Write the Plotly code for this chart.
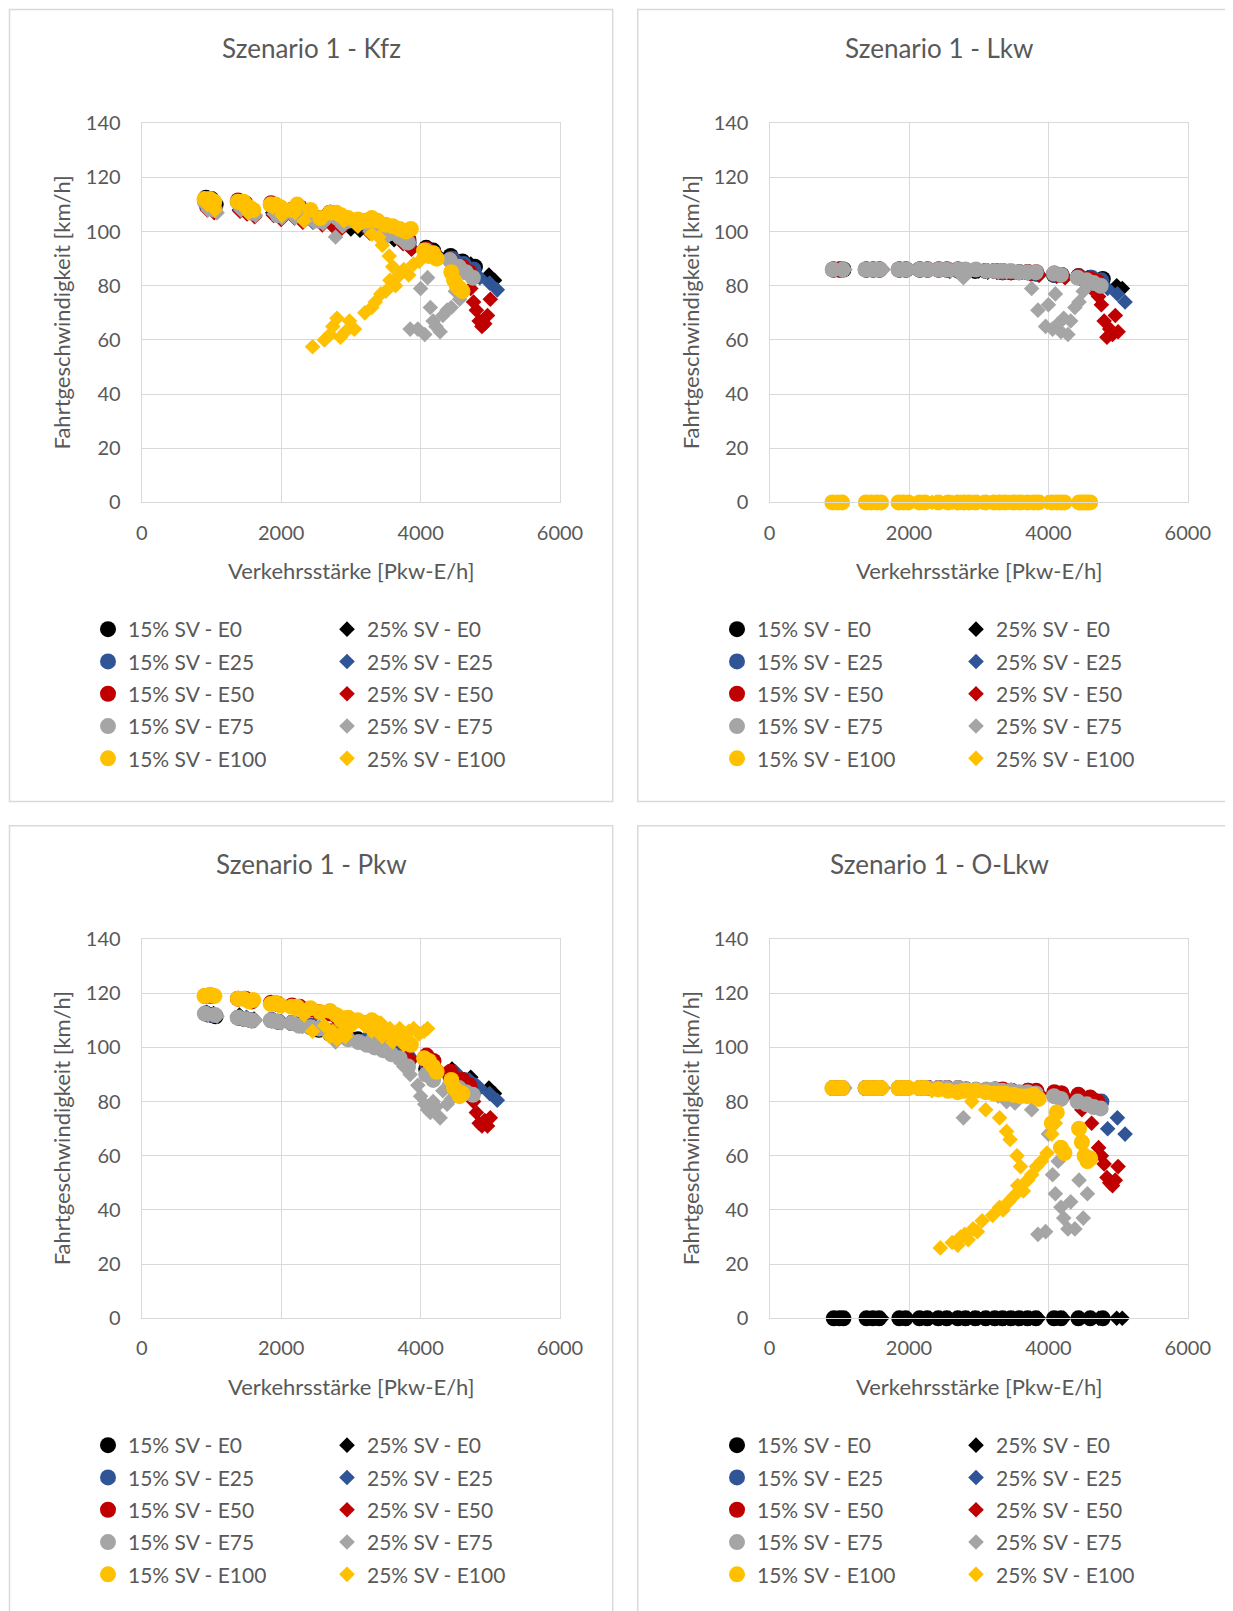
import plotly.graph_objects as go

# ---------------- data ----------------
PANELS = ["Kfz", "Lkw", "Pkw", "O-Lkw"]
SERIES = ["15% SV - E0", "25% SV - E0", "15% SV - E25", "25% SV - E25", "15% SV - E50",
          "25% SV - E50", "15% SV - E75", "25% SV - E75", "15% SV - E100", "25% SV - E100"]
X_TICKS = [0, 2000, 4000, 6000]
Y_TICKS = [0, 20, 40, 60, 80, 100, 120, 140]

# traffic volume [Pkw-E/h] per series
X_15_E0 = [920, 1000, 1060, 1390, 1480, 1570, 1860, 1950, 2150, 2260, 2420, 2540, 2700, 2810, 2950, 3100, 3230, 3340, 3460, 3580, 3700, 3820, 4080, 4180, 4430, 4600, 4780]
X_25_E0 = [930, 1030, 1400, 1500, 1610, 1880, 1990, 2180, 2300, 2450, 2580, 2730, 2850, 3000, 3130, 3260, 3380, 3500, 3620, 3740, 3860, 4110, 4220, 4450, 4720, 4980, 5060]
X_15_E25 = [915, 1010, 1385, 1490, 1580, 1865, 1960, 2160, 2270, 2430, 2550, 2710, 2820, 3240, 3350, 3470, 3710, 3830, 4090, 4190, 4440, 4620, 4760]
X_25_E25 = [935, 1035, 1405, 1505, 1615, 1885, 1995, 2185, 2305, 2455, 2585, 2735, 2855, 3265, 3385, 3505, 3745, 3865, 4115, 4230, 4500, 4700, 4850, 4990, 5100]
X_15_E50 = [910, 1005, 1380, 1485, 1575, 1855, 1955, 2155, 2265, 2425, 2545, 2705, 2815, 3235, 3345, 3465, 3705, 3825, 4085, 4185, 4430, 4600, 4700]
X_25_E50 = [940, 1040, 1410, 1510, 1620, 1890, 2000, 2190, 2310, 2460, 2590, 2740, 2860, 3270, 3390, 3510, 3750, 3870, 4120, 4240, 4480, 4620, 4720, 4760, 4800, 4840, 4880, 4920, 4960, 5000]
X_15_E75 = [905, 1050, 1375, 1480, 1570, 1850, 1950, 2150, 2260, 2420, 2540, 2700, 2810, 2960, 3110, 3230, 3340, 3460, 3580, 3700, 3820, 4080, 4180, 4420, 4550, 4650, 4750]
X_25_E75 = [950, 1080, 1420, 1520, 1630, 1900, 2010, 2200, 2320, 2470, 2600, 2780, 2880, 3280, 3400, 3520, 3760, 3850, 3960, 4000, 4060, 4100, 4140, 4180, 4220, 4280, 4320, 4380, 4440, 4500, 4560]
X_15_E100 = [900, 980, 1040, 1380, 1460, 1540, 1600, 1850, 1920, 1990, 2150, 2230, 2420, 2560, 2700, 2790, 2860, 2960, 3100, 3220, 3300, 3380, 3500, 3600, 3700, 3790, 3860, 4050, 4120, 4180, 4230, 4440, 4480, 4520, 4560, 4600]
X_25_E100 = [940, 1050, 1420, 1530, 1880, 2010, 2200, 2330, 2900, 3100, 3300, 3400, 3450, 3550, 3600, 2450, 2620, 2700, 2740, 2800, 2850, 2920, 2980, 3050, 3200, 3300, 3350, 3430, 3500, 3560, 3640, 3700, 3760, 3830, 3900, 3980, 4050, 4100]

# speeds [km/h] — Kfz
Y_KFZ_15_E0 = [112.5, 112, 110, 111, 110, 108, 110, 108, 108, 109, 107, 105, 107, 106, 104, 103, 104, 103, 101, 100.5, 100, 97, 94, 93, 91, 89, 87]
Y_KFZ_25_E0 = [109, 108, 108, 107, 106, 107, 105, 106, 104, 104, 103, 103, 102, 101, 100.5, 100, 100, 99, 97, 96, 94, 93, 92, 91, 88, 84, 82]
Y_KFZ_15_E25 = [112, 111.5, 111, 110, 108, 110, 107.5, 108, 108.5, 106.5, 104.5, 106.5, 105.5, 103.5, 102.5, 100.5, 99, 96, 93, 92, 90, 88, 86]
Y_KFZ_25_E25 = [108.5, 107.5, 108, 107, 106, 106.5, 105, 105.5, 104, 103.5, 103, 102.5, 101.5, 100, 99.5, 98.5, 96, 94, 92.5, 91.5, 90, 86, 83, 81, 78.5]
Y_KFZ_15_E50 = [112, 111, 111.5, 110.5, 108, 110.5, 107, 108, 109, 105, 105, 107, 106, 104, 103, 101, 99.5, 97, 93.5, 92, 89.5, 87, 85]
Y_KFZ_25_E50 = [108, 107, 107.5, 106.5, 105.5, 106, 104.5, 105, 103.5, 104, 102.5, 102, 101, 99.5, 99, 98, 95.5, 93.5, 92, 91, 88, 85, 79, 74, 71, 67, 65, 66, 69, 75]
Y_KFZ_15_E75 = [111, 108, 111, 109.5, 107, 110, 106, 107.5, 108, 105, 104, 106, 105, 104, 103.5, 103, 102, 100.5, 99.5, 98, 96, 93, 91.5, 89.5, 87, 85, 83]
Y_KFZ_25_E75 = [108, 107, 108, 107, 106, 106.5, 105, 105, 104, 103.5, 103, 98, 102, 100, 99.5, 98, 96, 64, 64, 79, 62, 83, 72, 67, 65, 63, 69, 71, 72, 78, 75]
Y_KFZ_15_E100 = [112, 112, 111, 111, 111, 109, 108, 110, 110, 109, 108, 110, 108, 105, 107, 107, 106, 105, 104.5, 104, 105, 104, 102.5, 102, 101, 100, 101, 93, 91, 92, 90, 85, 82, 80, 79, 78]
Y_KFZ_25_E100 = [110, 108, 110, 107, 109, 106, 107, 104, 104, 102, 99, 98, 95, 91, 87, 57.5, 60, 62, 65, 68, 61, 63, 67, 64, 70, 72, 74, 77, 78, 82, 80, 84, 86, 84, 88, 89, 91, 92]

# speeds [km/h] — Lkw
Y_LKW_15_E0 = [86, 86, 86, 86, 86, 86, 86, 86, 86, 86, 86, 86, 86, 85.5, 85.5, 85.5, 85.5, 85, 85, 85, 85, 84.5, 84, 84, 83.5, 83, 82.5]
Y_LKW_25_E0 = [86, 86, 86, 86, 86, 86, 86, 86, 86, 86, 85.5, 85.5, 85.5, 85.5, 85, 85, 85, 85, 85, 84.5, 84, 84, 83.5, 83, 82, 80, 79]
Y_LKW_15_E25 = [86, 86, 86, 86, 86, 86, 86, 86, 86, 86, 86, 85.5, 85.5, 85.5, 85, 85, 85, 84.5, 84, 84, 83.5, 83, 82]
Y_LKW_25_E25 = [86, 86, 86, 86, 86, 86, 86, 86, 86, 86, 85.5, 85.5, 85.5, 85, 85, 85, 84.5, 84, 83.5, 83.5, 82.5, 81, 79, 77, 74]
Y_LKW_15_E50 = [86, 86, 86, 86, 86, 86, 86, 86, 86, 86, 86, 86, 85.5, 85.5, 85.5, 85, 85, 85, 84.5, 84, 83.5, 82.5, 81.5]
Y_LKW_25_E50 = [86, 86, 86, 86, 86, 86, 86, 86, 86, 86, 85.5, 85.5, 85.5, 85, 85, 85, 84.5, 84, 83.5, 83, 82, 79, 76, 73, 67, 61, 64, 62, 69, 63]
Y_LKW_15_E75 = [86, 86, 86, 86, 86, 86, 86, 86, 86, 86, 86, 86, 86, 86, 85.5, 85.5, 85.5, 85.5, 85, 85, 85, 84.5, 84, 83, 82, 81, 80]
Y_LKW_25_E75 = [86, 86, 86, 86, 86, 86, 86, 86, 86, 86, 85.5, 83, 85.5, 85, 85, 85, 79, 71, 65, 73, 64, 77, 66, 63, 68, 62, 67, 72, 74, 78, 80]
Y_LKW_15_E100 = [0, 0, 0, 0, 0, 0, 0, 0, 0, 0, 0, 0, 0, 0, 0, 0, 0, 0, 0, 0, 0, 0, 0, 0, 0, 0, 0, 0, 0, 0, 0, 0, 0, 0, 0, 0]
Y_LKW_25_E100 = [0, 0, 0, 0, 0, 0, 0, 0, 0, 0, 0, 0, 0, 0, 0, 0, 0, 0, 0, 0, 0, 0, 0, 0, 0, 0, 0, 0, 0, 0, 0, 0, 0, 0, 0, 0, 0, 0]

# speeds [km/h] — Pkw
Y_PKW_15_E0 = [112.5, 112, 111.5, 111, 110.5, 110, 110, 109.5, 109, 108.5, 107.5, 106.5, 105, 104, 103.5, 103, 102, 101, 100, 98.5, 97, 95, 92, 91, 89, 87, 85]
Y_PKW_25_E0 = [113, 112.5, 112, 111, 110.5, 110, 109.5, 109, 108, 108, 107, 106, 105, 104, 103, 102, 101, 100, 98.5, 97, 96, 93, 92, 92, 89, 85, 83]
Y_PKW_15_E25 = [112.5, 112, 111, 110.5, 110, 110, 109.5, 109, 108.5, 108, 107, 106, 105, 103, 101, 100, 99, 96, 94, 92, 90, 88, 86]
Y_PKW_25_E25 = [112, 112, 111.5, 111, 110, 110, 109.5, 109, 108, 108, 107, 106, 105, 102.5, 101, 100, 97, 96, 93, 92, 91, 88, 85, 83, 80.5]
Y_PKW_15_E50 = [119, 119, 118, 118, 117, 116.5, 116, 115.5, 115, 114, 113, 112.5, 111, 109, 108, 106, 104, 101, 97, 95, 91, 88, 86]
Y_PKW_25_E50 = [112, 112, 111, 110.5, 110, 110, 109.5, 109, 108, 108, 107, 106, 105, 102, 101, 100, 97, 95.5, 93, 92, 90, 88, 85, 80, 76, 72, 71, 73, 71, 74]
Y_PKW_15_E75 = [112.5, 112, 111, 110.5, 110, 110, 109.5, 109, 108, 107.5, 107, 105, 104, 103, 102, 101, 100, 99, 97.5, 96, 93, 90, 88, 86, 85, 83.5, 82.5]
Y_PKW_25_E75 = [112, 111.5, 111, 110.5, 110, 110, 109, 109, 108, 107.5, 107, 102, 106, 103, 101, 100, 93, 90, 86, 82, 79, 77, 76, 80, 78, 74, 84, 79, 81, 83, 82]
Y_PKW_15_E100 = [119, 119.5, 119, 118, 118, 117, 117.5, 116, 116.5, 115.5, 115, 115, 114.5, 113, 113.5, 112, 110, 111, 110, 109, 110, 108, 106, 105, 104, 103, 101, 96, 95, 93, 91, 88, 85, 84, 82, 83]
Y_PKW_25_E100 = [119, 119, 118, 117, 116, 115, 114, 112, 111, 110, 106, 109, 104, 105, 102, 106, 108, 104, 106, 103, 105, 104, 107, 110, 108, 110, 107, 109, 106, 107, 105, 107, 101, 106, 107, 105, 106, 107]

# speeds [km/h] — O-Lkw
Y_OLKW_15_E0 = [0, 0, 0, 0, 0, 0, 0, 0, 0, 0, 0, 0, 0, 0, 0, 0, 0, 0, 0, 0, 0, 0, 0, 0, 0, 0, 0]
Y_OLKW_25_E0 = [0, 0, 0, 0, 0, 0, 0, 0, 0, 0, 0, 0, 0, 0, 0, 0, 0, 0, 0, 0, 0, 0, 0, 0, 0, 0, 0]
Y_OLKW_15_E25 = [85, 85, 85, 85, 85, 85, 85, 85, 85, 85, 85, 84.5, 84.5, 84.5, 84, 84, 84, 83.5, 83, 83, 82, 81, 80]
Y_OLKW_25_E25 = [85, 85, 85, 85, 85, 85, 85, 85, 85, 85, 84.5, 84.5, 84.5, 84, 84, 84, 83.5, 83, 82.5, 82, 80, 78, 70, 74, 68]
Y_OLKW_15_E50 = [85, 85, 85, 85, 85, 85, 85, 85, 85, 85, 85, 85, 84.5, 84.5, 84.5, 84, 84, 84, 83.5, 83, 82.5, 81.5, 80]
Y_OLKW_25_E50 = [85, 85, 85, 85, 85, 85, 85, 85, 85, 85, 84.5, 84.5, 84.5, 84, 84, 84, 83.5, 83, 82.5, 82, 77, 72, 63, 60, 57, 52, 50, 49, 51, 56]
Y_OLKW_15_E75 = [85, 85, 85, 85, 85, 85, 85, 85, 85, 85, 85, 85, 84.5, 84.5, 84.5, 84.5, 84, 84, 83.5, 83.5, 83, 82, 81, 80, 79, 78, 77.5]
Y_OLKW_25_E75 = [85, 85, 85, 85, 85, 85, 85, 85, 85, 85, 84.5, 74, 84, 82, 80, 79.5, 77, 31, 32, 68, 53, 46, 58, 41, 37, 33, 43, 33, 51, 37, 46]
Y_OLKW_15_E100 = [85, 85, 85, 85, 85, 85, 85, 85, 85, 85, 85, 85, 84.5, 84, 83.5, 84, 84, 84, 83.5, 83, 83, 83, 82.5, 82, 82, 82.5, 81, 72, 76, 63, 61, 70, 65, 60, 58, 59]
Y_OLKW_25_E100 = [85, 85, 85, 85, 85, 85, 85, 84, 80, 77, 74, 69, 66, 60, 56, 26, 28, 27, 30, 31, 29, 33, 32, 36, 38, 41, 40, 43, 45, 49, 47, 51, 53, 56, 58, 61, 68, 72]

X_ALL = [X_15_E0, X_25_E0, X_15_E25, X_25_E25, X_15_E50, X_25_E50, X_15_E75, X_25_E75, X_15_E100, X_25_E100]
Y_ALL = {
    "Kfz": [Y_KFZ_15_E0, Y_KFZ_25_E0, Y_KFZ_15_E25, Y_KFZ_25_E25, Y_KFZ_15_E50, Y_KFZ_25_E50, Y_KFZ_15_E75, Y_KFZ_25_E75, Y_KFZ_15_E100, Y_KFZ_25_E100],
    "Lkw": [Y_LKW_15_E0, Y_LKW_25_E0, Y_LKW_15_E25, Y_LKW_25_E25, Y_LKW_15_E50, Y_LKW_25_E50, Y_LKW_15_E75, Y_LKW_25_E75, Y_LKW_15_E100, Y_LKW_25_E100],
    "Pkw": [Y_PKW_15_E0, Y_PKW_25_E0, Y_PKW_15_E25, Y_PKW_25_E25, Y_PKW_15_E50, Y_PKW_25_E50, Y_PKW_15_E75, Y_PKW_25_E75, Y_PKW_15_E100, Y_PKW_25_E100],
    "O-Lkw": [Y_OLKW_15_E0, Y_OLKW_25_E0, Y_OLKW_15_E25, Y_OLKW_25_E25, Y_OLKW_15_E50, Y_OLKW_25_E50, Y_OLKW_15_E75, Y_OLKW_25_E75, Y_OLKW_15_E100, Y_OLKW_25_E100],
}

# ---------------- style ----------------
OFF = 8                      # page body margin that offsets the figure
W, H = 1233 - OFF, 1611 - OFF
FONT = "Lato"
TXT = "#595959"
GRID = "#d9d9d9"
COLORS = ["#000000", "#000000", "#2F5597", "#2F5597", "#C00000", "#C00000",
          "#A5A5A5", "#A5A5A5", "#FFC000", "#FFC000"]
SYMBOLS = ["circle", "diamond"] * 5
SIZES = [16, 12] * 5

def px(x):
    return (x - OFF) / W

def py(y):
    return 1 - (y - OFF) / H

# plot-area pixel boxes in window coordinates (left, right, top, bottom)
PLOT_BOX = [(141.8, 560.0, 123.3, 502.4), (769.6, 1187.8, 123.3, 502.4),
            (141.8, 560.0, 939.1, 1318.3), (769.6, 1187.8, 939.1, 1318.3)]
PANEL_BOX = [(9.5, 612.7, 9.5, 801.5), (637.7, 1260, 9.5, 801.5),
             (9.5, 612.7, 825.7, 1640), (637.7, 1260, 825.7, 1640)]
TITLE_POS = [(311, 48), (939, 48), (311, 864), (939, 864)]
XTITLE_Y = [570, 570, 1386, 1386]
YTITLE_X = [61.6, 690.5, 61.6, 690.5]
LEG_X = [(88, 327), (717, 956), (88, 327), (717, 956)]
LEG_TOP = [609, 609, 1425, 1425]

fig = go.Figure()
layout = dict(width=W, height=H,
              margin=dict(l=0, r=0, t=0, b=0, pad=0, autoexpand=False),
              paper_bgcolor="white", plot_bgcolor="white", template="none",
              font=dict(family=FONT, color=TXT), showlegend=True,
              shapes=[], annotations=[])

for p, name in enumerate(PANELS):
    xa = "x" if p == 0 else f"x{p+1}"
    ya = "y" if p == 0 else f"y{p+1}"
    l, r, t, b = PLOT_BOX[p]
    axx = dict(domain=[px(l), px(r)], range=[0, 6000], tickvals=X_TICKS, showgrid=True,
               gridcolor=GRID, gridwidth=1, zeroline=False, showline=True, linecolor=GRID,
               linewidth=1.3, mirror=True, ticks="", ticklabelstandoff=12, automargin=False,
               tickfont=dict(size=20, color=TXT, family=FONT), anchor=ya, fixedrange=True)
    axy = dict(domain=[py(b), py(t)], range=[0, 140], tickvals=Y_TICKS, showgrid=True,
               gridcolor=GRID, gridwidth=1, zeroline=False, showline=True, linecolor=GRID,
               linewidth=1.3, mirror=True, ticks="", ticklabelstandoff=16, automargin=False,
               tickfont=dict(size=20, color=TXT, family=FONT), anchor=xa, fixedrange=True)
    layout["xaxis" if p == 0 else f"xaxis{p+1}"] = axx
    layout["yaxis" if p == 0 else f"yaxis{p+1}"] = axy

    for c in range(2):
        k = p * 2 + c
        lname = "legend" if k == 0 else f"legend{k+1}"
        layout[lname] = dict(x=px(LEG_X[p][c]), xanchor="left", y=py(LEG_TOP[p]), yanchor="top",
                             orientation="v", bgcolor="rgba(0,0,0,0)", borderwidth=0,
                             tracegroupgap=2,
                             font=dict(size=21, color=TXT, family=FONT), itemclick=False,
                             itemdoubleclick=False)

    for i, sname in enumerate(SERIES):
        k = p * 2 + (i % 2)
        lname = "legend" if k == 0 else f"legend{k+1}"
        fig.add_trace(go.Scatter(
            x=X_ALL[i], y=Y_ALL[name][i], mode="markers", name=sname,
            xaxis=xa, yaxis=ya, legend=lname, legendgroup=f"g{p}_{i}", cliponaxis=False,
            marker=dict(symbol=SYMBOLS[i], size=SIZES[i], color=COLORS[i],
                        line=dict(width=0))))

    x0, x1, y0, y1 = PANEL_BOX[p]
    layout["shapes"].append(dict(type="rect", xref="paper", yref="paper",
                                 x0=px(x0), x1=px(x1), y0=py(y0), y1=py(y1),
                                 line=dict(color=GRID, width=1.5), layer="below"))
    tx, ty = TITLE_POS[p]
    layout["annotations"].append(dict(text=f"Szenario 1 - {name}", xref="paper", yref="paper",
                                      x=px(tx), y=py(ty), xanchor="center", yanchor="middle",
                                      showarrow=False, font=dict(size=26, color=TXT, family=FONT)))
    layout["annotations"].append(dict(text="Verkehrsstärke [Pkw-E/h]", xref="paper", yref="paper",
                                      x=px((l + r) / 2), y=py(XTITLE_Y[p]), xanchor="center",
                                      yanchor="middle", showarrow=False,
                                      font=dict(size=22, color=TXT, family=FONT)))
    layout["annotations"].append(dict(text="Fahrtgeschwindigkeit [km/h]", xref="paper", yref="paper",
                                      x=px(YTITLE_X[p]), y=py((t + b) / 2), xanchor="center",
                                      yanchor="middle", textangle=-90, showarrow=False,
                                      font=dict(size=22, color=TXT, family=FONT)))

fig.update_layout(**layout)
fig.write_html("out.html", config={"displayModeBar": False})
